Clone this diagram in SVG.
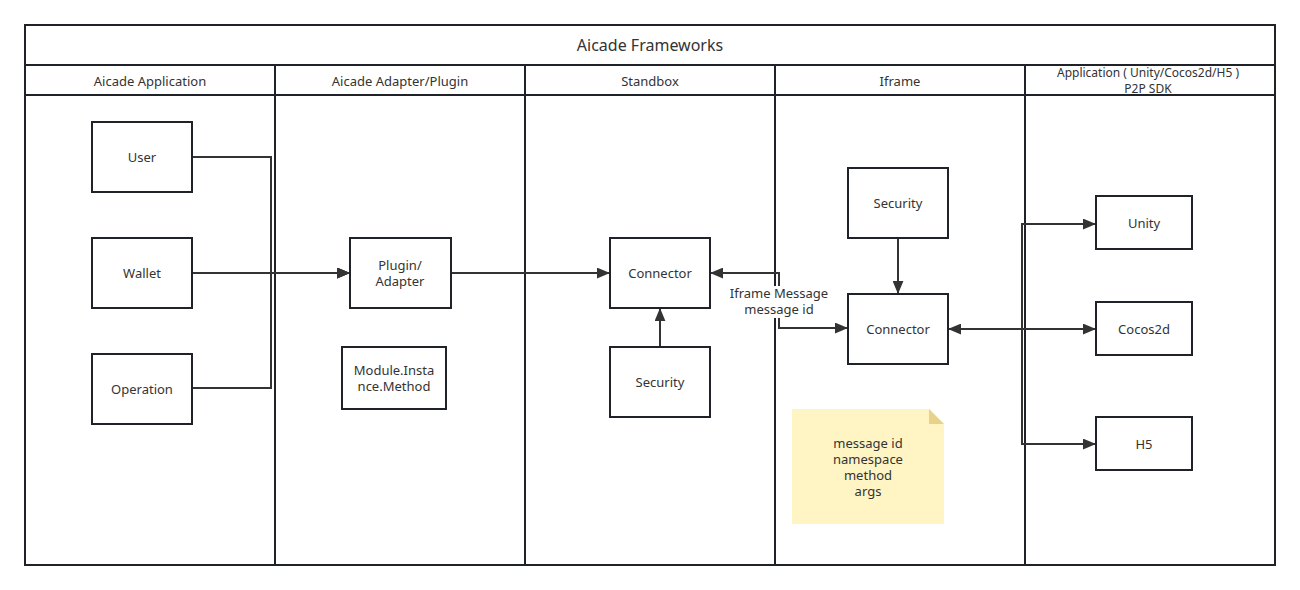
<svg xmlns="http://www.w3.org/2000/svg" width="1300" height="590" viewBox="0 0 1300 590">
<defs>
<style>
text{font-family:"Noto Sans","Open Sans","Liberation Sans",sans-serif;font-size:13px;fill:#333;text-anchor:middle;dominant-baseline:central}
.frame{fill:none;stroke:#1f2329;stroke-width:2}
.box{fill:#fff;stroke:#1f2329;stroke-width:2}
.edge{fill:none;stroke:#333;stroke-width:2}
.title{font-size:16px}
.small{font-size:12px}
</style>
<marker id="ah" viewBox="0 0 12 10" refX="12" refY="5" markerWidth="13" markerHeight="11" markerUnits="userSpaceOnUse" orient="auto-start-reverse">
<path d="M0,0 L12,5 L0,10 z" fill="#333"/>
</marker>
</defs>
<rect width="1300" height="590" fill="#fff"/>
<g id="pool">
<rect class="frame" x="25" y="25" width="1250" height="540"/>
<line class="frame" x1="25" y1="65" x2="1275" y2="65"/>
<line class="frame" x1="25" y1="95" x2="1275" y2="95"/>
<line class="frame" x1="275" y1="65" x2="275" y2="565"/>
<line class="frame" x1="525" y1="65" x2="525" y2="565"/>
<line class="frame" x1="775" y1="65" x2="775" y2="565"/>
<line class="frame" x1="1025" y1="65" x2="1025" y2="565"/>
<text class="title" x="650" y="45">Aicade Frameworks</text>
<text x="150" y="81">Aicade Application</text>
<text x="400" y="81">Aicade Adapter/Plugin</text>
<text x="650" y="81">Standbox</text>
<text x="900" y="81">Iframe</text>
<text class="small" x="1148" y="72">Application ( Unity/Cocos2d/H5 )</text>
<text class="small" x="1148" y="88">P2P SDK</text>
</g>
<g id="connectors">
<polyline class="edge" points="192,157 271,157 271,273 350,273" marker-end="url(#ah)"/>
<polyline class="edge" points="192,388 271,388 271,273 350,273" marker-end="url(#ah)"/>
<polyline class="edge" points="192,273 350,273" marker-end="url(#ah)"/>
<polyline class="edge" points="451,273 610,273" marker-end="url(#ah)"/>
<polyline class="edge" points="660,347 660,308" marker-end="url(#ah)"/>
<polyline class="edge" points="710,273 779,273 779,328 848,328" marker-start="url(#ah)" marker-end="url(#ah)"/>
<rect x="728" y="286" width="102" height="32" fill="#fff"/>
<text x="779" y="293">Iframe Message</text>
<text x="779" y="309">message id</text>
<polyline class="edge" points="898,238 898,294" marker-end="url(#ah)"/>
<polyline class="edge" points="948,329 1096,329" marker-start="url(#ah)" marker-end="url(#ah)"/>
<polyline class="edge" points="1096,224 1022,224 1022,444 1096,444" marker-start="url(#ah)" marker-end="url(#ah)"/>
</g>
<g id="user"><rect class="box" x="92" y="122" width="100" height="70"/><text x="142" y="157">User</text></g>
<g id="wallet"><rect class="box" x="92" y="238" width="100" height="70"/><text x="142" y="273">Wallet</text></g>
<g id="operation"><rect class="box" x="92" y="354" width="100" height="70"/><text x="142" y="389">Operation</text></g>
<g id="plugin"><rect class="box" x="350" y="238" width="101" height="70"/><text x="400" y="265">Plugin/</text><text x="400" y="281">Adapter</text></g>
<g id="module"><rect class="box" x="342" y="347" width="104" height="62"/><text x="394" y="370">Module.Insta</text><text x="394" y="386">nce.Method</text></g>
<g id="connector1"><rect class="box" x="610" y="238" width="100" height="70"/><text x="660" y="273">Connector</text></g>
<g id="security1"><rect class="box" x="610" y="347" width="100" height="70"/><text x="660" y="382">Security</text></g>
<g id="security2"><rect class="box" x="848" y="168" width="100" height="70"/><text x="898" y="203">Security</text></g>
<g id="connector2"><rect class="box" x="848" y="294" width="100" height="70"/><text x="898" y="329">Connector</text></g>
<g id="unity"><rect class="box" x="1096" y="196" width="96" height="53"/><text x="1144" y="223">Unity</text></g>
<g id="cocos2d"><rect class="box" x="1096" y="302" width="96" height="53"/><text x="1144" y="329">Cocos2d</text></g>
<g id="h5"><rect class="box" x="1096" y="417" width="96" height="53"/><text x="1144" y="444">H5</text></g>
<g id="note">
<path d="M792,409 H929 L944,424 V524 H792 Z" fill="#fff4c3"/>
<path d="M929,409 L944,424 H929 Z" fill="#e8d28a"/>
<text x="868" y="443">message id</text>
<text x="868" y="459">namespace</text>
<text x="868" y="475">method</text>
<text x="868" y="491">args</text>
</g>
</svg>
